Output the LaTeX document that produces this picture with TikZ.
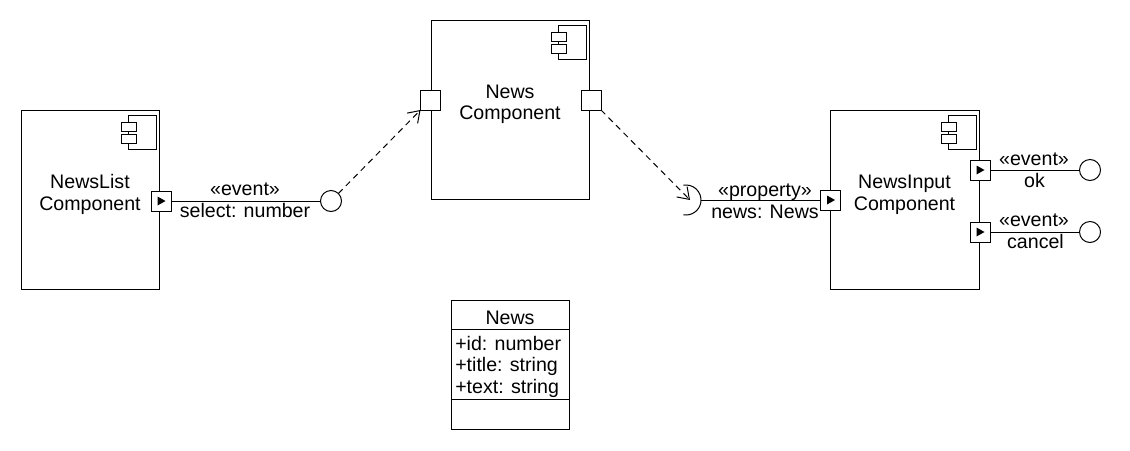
\documentclass[tikz,border=0pt]{standalone}
\usepackage{fontspec}
\setmainfont{Liberation Sans}
\usetikzlibrary{arrows.meta}
\tikzset{
  every node/.style={font=\fontsize{14.7}{17}\selectfont},
  ln/.style={line width=0.75pt},
  comp/.style={draw, ln, rectangle, inner sep=0pt, outer sep=0pt, minimum height=134.25pt},
  port/.style={draw, ln, fill=white, rectangle, inner sep=0pt, outer sep=0pt, minimum size=15pt},
  lolli/.style={draw, ln, circle, fill=white, inner sep=0pt, outer sep=0pt, minimum size=15.75pt},
  txt/.style={anchor=base, inner sep=0pt},
  dep/.style={ln, dash pattern=on 4.5pt off 3.5pt, -{Straight Barb[length=8pt,width=11pt]}},
  compicon/.pic={
    \draw[ln, fill=white] (-31,5) rectangle (-3,39);
    \draw[ln, fill=white] (-38,12) rectangle (-23,21);
    \draw[ln, fill=white] (-38,24) rectangle (-23,33);
  },
  portarrow/.pic={\fill (-3.5,-4.5) -- (4.5,0) -- (-3.5,4.5) -- cycle;}
}
\begin{document}
\begin{tikzpicture}[x=0.75pt, y=-0.75pt]
\useasboundingbox (0,0) rectangle (1130,450);

% components
\node[comp, minimum width=103.5pt] (nl) at (90,199.5) {};
\node[comp, minimum width=118.5pt] (nw) at (510,109.5) {};
\node[comp, minimum width=111.75pt] (ni) at (904.5,199.5) {};
\pic at (nl.north east) {compicon};
\pic at (nw.north east) {compicon};
\pic at (ni.north east) {compicon};

\node[txt] (nlt1) at (90,188) {NewsList};
\node[txt] (nlt2) at (90,210) {Component};
\node[txt] (nwt1) at (510,98) {News};
\node[txt] (nwt2) at (510,119) {Component};
\node[txt] (nit1) at (904.5,188) {NewsInput};
\node[txt] (nit2) at (904.5,210) {Component};

% ports
\node[port] (p1) at (161,201) {};
\pic at (p1) {portarrow};
\node[port] (pnl) at (430.5,100) {};
\node[port] (pnr) at (591,100) {};
\node[port] (pin) at (830.5,200) {};
\pic at (pin) {portarrow};
\node[port] (pok) at (980,170) {};
\pic at (pok) {portarrow};
\node[port] (pcn) at (980,232) {};
\pic at (pcn) {portarrow};

% provided interfaces
\node[lolli] (c1) at (331,201) {};
\node[lolli] (cok) at (1090,170) {};
\node[lolli] (ccn) at (1090,232) {};
\draw[ln] (p1.east) -- (c1.west);
\draw[ln] (pok.east) -- (cok.west);
\draw[ln] (pcn.east) -- (ccn.west);

% required interface (socket)
\node[circle, inner sep=0pt, outer sep=0pt, minimum size=22.5pt] (sk) at (686,200) {};
\draw[ln] ([shift={(100:15)}]sk.center) arc[start angle=100, end angle=-100, radius=15];
\draw[ln] (sk.east) -- (pin.west);

% labels
\node[txt] (l1a) at (245,195) {«event»};
\node[txt] (l1b) at (245,217) {select: number};
\node[txt] (l2a) at (765,196) {«property»};
\node[txt] (l2b) at (765,218) {news: News};
\node[txt] (l3a) at (1034,165) {«event»};
\node[txt] (l3b) at (1034.5,187) {ok};
\node[txt] (l4a) at (1034,226) {«event»};
\node[txt] (l4b) at (1035.5,248) {cancel};

% dependencies
\draw[dep] (c1) -- (pnl.south west);
\draw[dep] (pnr.south east) -- ([xshift=3pt]sk.center);

% class
\node[draw, ln, rectangle, inner sep=0pt, outer sep=0pt, minimum width=88.5pt, minimum height=96.75pt] (cls) at (510,364.5) {};
\draw[ln] ([shift={(0,29)}]cls.north west) -- ([shift={(0,29)}]cls.north east);
\draw[ln] ([shift={(0,99)}]cls.north west) -- ([shift={(0,99)}]cls.north east);
\node[txt] (ct) at (510,324) {News};
\node[txt, anchor=base west] (ca1) at (455,350) {+id: number};
\node[txt, anchor=base west] (ca2) at (455,371.5) {+title: string};
\node[txt, anchor=base west] (ca3) at (455,393) {+text: string};
\end{tikzpicture}
\end{document}
